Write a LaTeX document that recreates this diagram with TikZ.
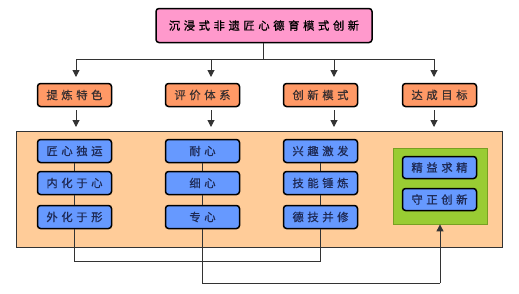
\documentclass[tikz,border=0pt]{standalone}
\usepackage{fontspec}
\newfontfamily\cjk[LetterSpace=32, FakeBold=0.8]{Noto Sans CJK SC}
\usetikzlibrary{arrows.meta}
\definecolor{pinkfill}{HTML}{FF99CC}
\definecolor{orangefill}{HTML}{FF9966}
\definecolor{bigfill}{HTML}{FFCC99}
\definecolor{bluefill}{HTML}{6699FF}
\definecolor{greenfill}{HTML}{99CC33}
\definecolor{greenline}{HTML}{77A022}
\definecolor{txtdark}{HTML}{3A3030}
\definecolor{txtblue}{HTML}{1E2A55}
\definecolor{linecol}{HTML}{333333}
\tikzset{
  box/.style={draw=black, line width=1.5pt, rounded corners=3pt, minimum width=74pt, minimum height=23pt, inner sep=0pt, font=\cjk\fontsize{11.3}{11.3}\selectfont},
  titlebox/.style={box, fill=pinkfill, minimum width=216pt, minimum height=34pt, text=black},
  catbox/.style={box, fill=orangefill, text=txtdark},
  itembox/.style={box, fill=bluefill, text=txtblue},
  conn/.style={draw=linecol, line width=1pt},
  arr/.style={conn, -{Triangle[length=7pt,width=7pt]}},
}
\begin{document}
\begin{tikzpicture}[x=1pt,y=-1pt]
\useasboundingbox (0,0) rectangle (519,293);
% big box and green box
\node[draw=linecol, line width=0.8pt, fill=bigfill, minimum width=486pt, minimum height=116pt, inner sep=0pt] (big) at (259,189) {};
\node[draw=greenline, line width=0.8pt, fill=greenfill, minimum width=94pt, minimum height=76pt, inner sep=0pt] (green) at (440,186) {};
% title
\node[titlebox] (title) at (264,25.5) {沉浸式非遗匠心德育模式创新};
% category row
\node[catbox] (c1) at (74.5,95) {提炼特色};
\node[catbox] (c2) at (202.5,95) {评价体系};
\node[catbox] (c3) at (320.5,95) {创新模式};
\node[catbox] (c4) at (439.5,95) {达成目标};
% top connectors
\coordinate (hub) at (263,59);
\coordinate (h1) at (76,59);
\coordinate (h2) at (211,59);
\coordinate (h3) at (334,59);
\coordinate (h4) at (434,59);
\coordinate (t1) at (76,77);
\coordinate (t2) at (211,77);
\coordinate (t3) at (334,77);
\coordinate (t4) at (434,77);
\draw[conn] (title.south -| hub) -- (hub);
\draw[conn] (h1) -- (h4);
\draw[arr] (h1) -- (t1);
\draw[arr] (h2) -- (t2);
\draw[arr] (h3) -- (t3);
\draw[arr] (h4) -- (t4);
% category to big box
\foreach \i/\x in {1/76,2/211,3/334,4/434}{
  \coordinate (s\i) at (\x,110);
  \coordinate (e\i) at (\x,127);
  \draw[arr] (s\i) -- (e\i);
}
% blue items
\node[itembox] (a1) at (74.5,151) {匠心独运};
\node[itembox] (a2) at (74.5,183) {内化于心};
\node[itembox] (a3) at (74.5,217) {外化于形};
\node[itembox] (b1) at (202.5,151) {耐心};
\node[itembox] (b2) at (202.5,183) {细心};
\node[itembox] (b3) at (202.5,217) {专心};
\node[itembox] (d1) at (320.5,151) {兴趣激发};
\node[itembox] (d2) at (320.5,183) {技能锤炼};
\node[itembox] (d3) at (320.5,217) {德技并修};
\node[itembox, minimum height=22pt] (g1) at (439.5,167.5) {精益求精};
\node[itembox, minimum height=22pt] (g2) at (439.5,199.5) {守正创新};
% connectors between items
\draw[conn] (a1) -- (a2); \draw[conn] (a2) -- (a3);
\draw[conn] (b1) -- (b2); \draw[conn] (b2) -- (b3);
\draw[conn] (d1) -- (d2); \draw[conn] (d2) -- (d3);
% bottom connectors
\coordinate (la) at (74.5,261);
\coordinate (ld) at (320.5,261);
\coordinate (lb) at (202.5,283);
\coordinate (lg) at (440,283);
\draw[conn] (a3.south) -- (la) -- (ld) -- (d3.south);
\draw[conn] (b3.south) -- (lb) -- (lg);
\draw[arr] (lg) -- (green.south);
\end{tikzpicture}
\end{document}
